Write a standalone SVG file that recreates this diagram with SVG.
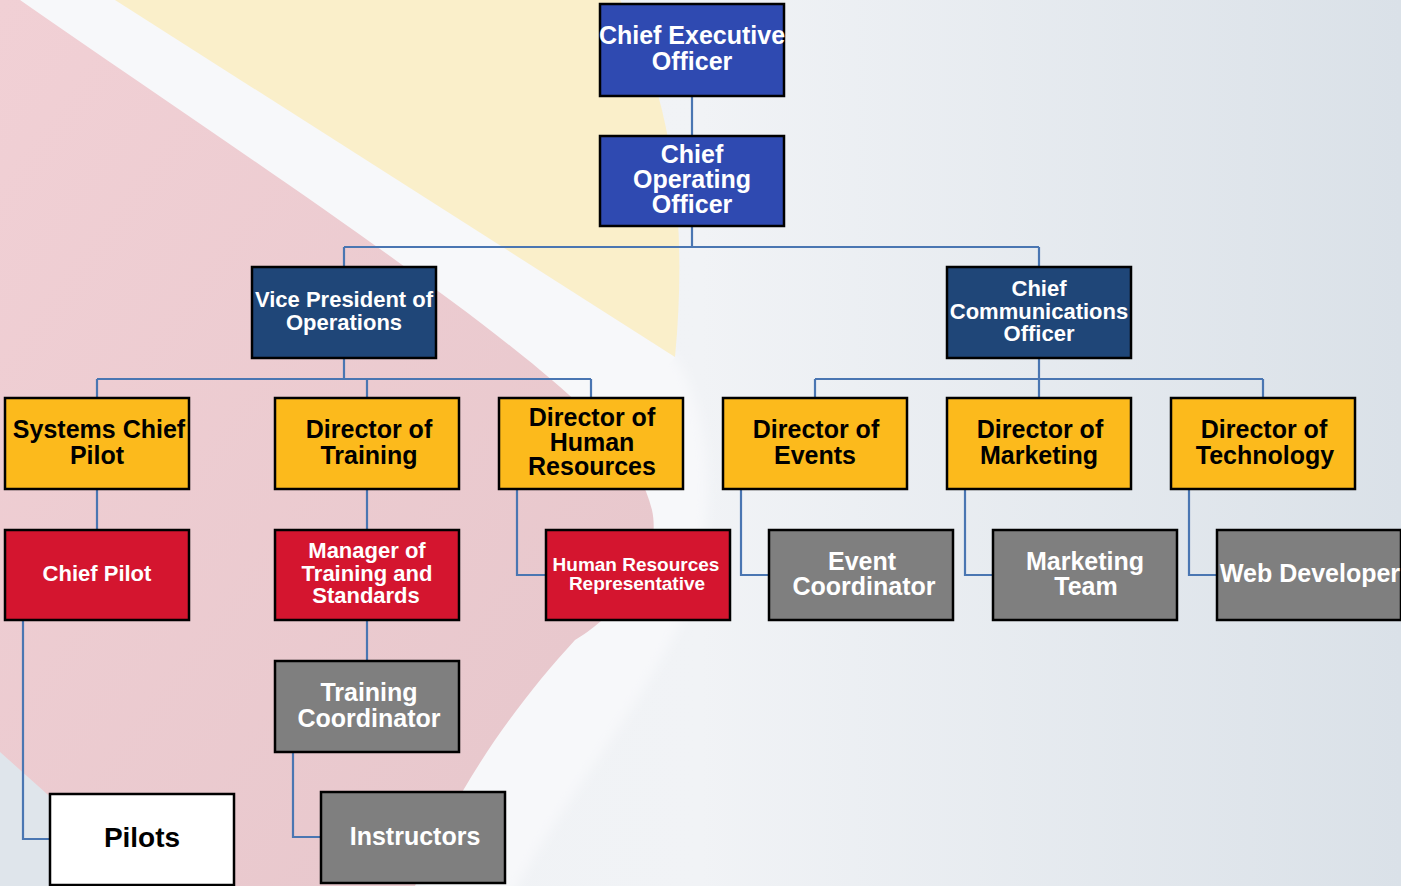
<svg xmlns="http://www.w3.org/2000/svg" width="1401" height="886" viewBox="0 0 1401 886">
<defs>
<linearGradient id="bg" x1="0" y1="0" x2="1" y2="0">
<stop offset="0" stop-color="#eef1f4"/>
<stop offset="0.5" stop-color="#f1f3f6"/>
<stop offset="1" stop-color="#dae1e8"/>
</linearGradient>
<linearGradient id="pk" x1="0" y1="0" x2="1" y2="1">
<stop offset="0" stop-color="#f1d0d5"/>
<stop offset="1" stop-color="#e6c6cb"/>
</linearGradient>
<filter id="soft" x="-10%" y="-10%" width="120%" height="120%">
<feGaussianBlur stdDeviation="6"/>
</filter>
<style>
.box{stroke:#000;stroke-width:2.5}
.ceo{fill:#2f4ab1}
.vp{fill:#1f4678}
.dir{fill:#fcba1c}
.red{fill:#d4152f}
.gray{fill:#7f7f7f}
.wht{fill:#ffffff}
.t{font-family:'Liberation Sans',Arial,Helvetica,sans-serif;font-weight:bold;text-anchor:middle}
.w{fill:#ffffff}
.k{fill:#000000}
.conn{fill:none;stroke:#4a76b2;stroke-width:2.2}
</style>
</defs>
<g id="background">
<rect x="0" y="0" width="1401" height="886" fill="url(#bg)"/>
<path d="M0,740 L170,886 L0,886 Z" fill="#dfe5eb"/>
<path d="M20,-20 L115,-20 L675,357 C715,420 715,520 690,600 C650,700 560,800 510,900 L425,900 Z" fill="#f7f8fa" filter="url(#soft)"/>
<path d="M20,0 L115,0 L675,357 L600,450 Z" fill="#f7f8fa"/>
<path d="M115,0 L620,0 C665,80 690,200 675,357 Z" fill="#faefca"/>
<path d="M0,0 L20,0 C200,125 420,270 540,370 C600,420 640,460 652,510 C664,565 610,620 575,640 C520,700 460,780 415,886 L150,886 L0,752 Z" fill="url(#pk)"/>
</g>
<g id="connectors" class="conn">
<path d="M692,97 V135"/>
<path d="M692,227 V247 M344,247 H1039 M344,247 V266 M1039,247 V266"/>
<path d="M344,359 V379 M97,379 H591 M97,379 V397 M367,379 V397 M591,379 V397"/>
<path d="M1039,359 V379 M815,379 H1263 M815,379 V397 M1039,379 V397 M1263,379 V397"/>
<path d="M97,490 V529"/>
<path d="M367,490 V529"/>
<path d="M367,621 V660"/>
<path d="M517,490 V575 H545"/>
<path d="M741,490 V575 H768"/>
<path d="M965,490 V575 H992"/>
<path d="M1189,490 V575 H1216"/>
<path d="M23,621 V839 H49"/>
<path d="M293,753 V837 H320"/>
</g>
<g id="ceo">
<rect class="box ceo" x="600" y="4" width="184" height="92"/>
<text class="t w" font-size="25"><tspan x="692" y="43.5">Chief Executive</tspan><tspan x="692" y="69.5">Officer</tspan></text>
</g>
<g id="coo">
<rect class="box ceo" x="600" y="136" width="184" height="90"/>
<text class="t w" font-size="25"><tspan x="692" y="163">Chief</tspan><tspan x="692" y="188">Operating</tspan><tspan x="692" y="213">Officer</tspan></text>
</g>
<g id="vp-operations">
<rect class="box vp" x="252" y="267" width="184" height="91"/>
<text class="t w" font-size="22"><tspan x="344" y="307">Vice President of</tspan><tspan x="344" y="330">Operations</tspan></text>
</g>
<g id="cco">
<rect class="box vp" x="947" y="267" width="184" height="91"/>
<text class="t w" font-size="22"><tspan x="1039" y="296">Chief</tspan><tspan x="1039" y="319">Communications</tspan><tspan x="1039" y="341">Officer</tspan></text>
</g>
<g id="systems-chief-pilot">
<rect class="box dir" x="5" y="398" width="184" height="91"/>
<text class="t k" font-size="25"><tspan x="99" y="437.5">Systems Chief</tspan><tspan x="97" y="463.5">Pilot</tspan></text>
</g>
<g id="director-training">
<rect class="box dir" x="275" y="398" width="184" height="91"/>
<text class="t k" font-size="25"><tspan x="369" y="437.5">Director of</tspan><tspan x="369" y="463.5">Training</tspan></text>
</g>
<g id="director-hr">
<rect class="box dir" x="499" y="398" width="184" height="91"/>
<text class="t k" font-size="25"><tspan x="592" y="426">Director of</tspan><tspan x="592" y="451">Human</tspan><tspan x="592" y="475">Resources</tspan></text>
</g>
<g id="director-events">
<rect class="box dir" x="723" y="398" width="184" height="91"/>
<text class="t k" font-size="25"><tspan x="816" y="437.5">Director of</tspan><tspan x="815" y="463.5">Events</tspan></text>
</g>
<g id="director-marketing">
<rect class="box dir" x="947" y="398" width="184" height="91"/>
<text class="t k" font-size="25"><tspan x="1040" y="437.5">Director of</tspan><tspan x="1039" y="463.5">Marketing</tspan></text>
</g>
<g id="director-technology">
<rect class="box dir" x="1171" y="398" width="184" height="91"/>
<text class="t k" font-size="25"><tspan x="1264" y="437.5">Director of</tspan><tspan x="1265" y="463.5">Technology</tspan></text>
</g>
<g id="chief-pilot">
<rect class="box red" x="5" y="530" width="184" height="90"/>
<text class="t w" font-size="22" x="97" y="581">Chief Pilot</text>
</g>
<g id="manager-training">
<rect class="box red" x="275" y="530" width="184" height="90"/>
<text class="t w" font-size="22"><tspan x="367" y="558">Manager of</tspan><tspan x="367" y="580.5">Training and</tspan><tspan x="366" y="603">Standards</tspan></text>
</g>
<g id="hr-representative">
<rect class="box red" x="546" y="530" width="184" height="90"/>
<text class="t w" font-size="19"><tspan x="636" y="571">Human Resources</tspan><tspan x="637" y="590">Representative</tspan></text>
</g>
<g id="event-coordinator">
<rect class="box gray" x="769" y="530" width="184" height="90"/>
<text class="t w" font-size="25"><tspan x="862" y="570">Event</tspan><tspan x="864" y="594.5">Coordinator</tspan></text>
</g>
<g id="marketing-team">
<rect class="box gray" x="993" y="530" width="184" height="90"/>
<text class="t w" font-size="25"><tspan x="1085" y="570">Marketing</tspan><tspan x="1086" y="594.5">Team</tspan></text>
</g>
<g id="web-developer">
<rect class="box gray" x="1217" y="530" width="184" height="90"/>
<text class="t w" font-size="25" x="1310" y="582">Web Developer</text>
</g>
<g id="training-coordinator">
<rect class="box gray" x="275" y="661" width="184" height="91"/>
<text class="t w" font-size="25"><tspan x="369" y="701">Training</tspan><tspan x="369" y="727">Coordinator</tspan></text>
</g>
<g id="pilots">
<rect class="box wht" x="50" y="794" width="184" height="91"/>
<text class="t k" font-size="28" x="142" y="847">Pilots</text>
</g>
<g id="instructors">
<rect class="box gray" x="321" y="792" width="184" height="91"/>
<text class="t w" font-size="25" x="415" y="845">Instructors</text>
</g>
</svg>
